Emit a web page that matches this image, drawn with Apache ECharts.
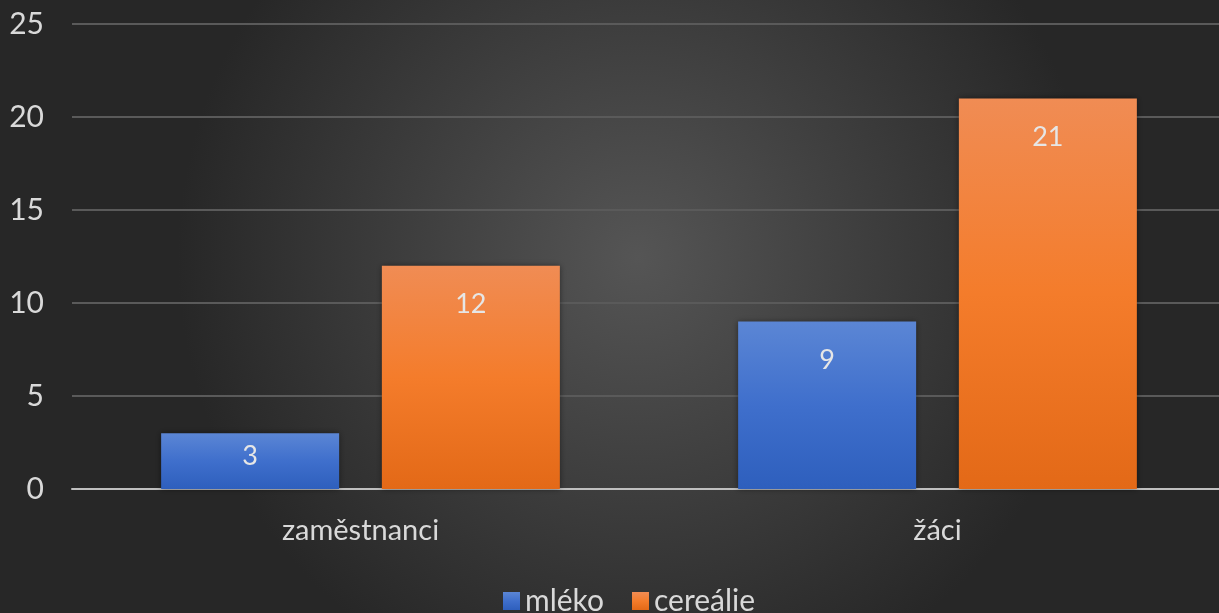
<!DOCTYPE html>
<html>
<head>
<meta charset="utf-8">
<script src="https://cdn.jsdelivr.net/npm/echarts@6/dist/echarts.min.js"></script>
<style>
  html, body { margin: 0; padding: 0; overflow: hidden; }
  #chart { width: 1226px; height: 613px; }
</style>
</head>
<body>
<div id="chart"></div>
<script>
const categories = ['zaměstnanci', 'žáci']
const mleko = [3, 9]
const cerealie = [12, 21]
const yTicks = { min: 0, max: 25, interval: 5 }

const font = 'Lato, "Open Sans", sans-serif'
const myChart = echarts.init(document.getElementById('chart'))

// short bars get their label pulled up closer to the top edge
const withLabel = (arr) => arr.map(v => v < 5 ? { value: v, label: { distance: 10 } } : v)

const option = {
  color: ['#3f6fcc', '#f47c2b'],
  backgroundColor: new echarts.graphic.RadialGradient(0.52, 0.42, 0.75, [
    { offset: 0, color: '#555555' },
    { offset: 1, color: '#272727' }
  ]),
  textStyle: { fontFamily: font },
  legend: {
    data: ['mléko', 'cereálie'],
    top: 581,
    left: 498,
    itemWidth: 17,
    itemHeight: 18,
    itemGap: 28,
    icon: 'rect',
    textStyle: { color: '#d9d9d9', fontSize: 30, fontFamily: font }
  },
  grid: {
    left: 72,
    top: 24,
    bottom: 124,
    right: 0
  },
  xAxis: {
    type: 'category',
    data: categories,
    axisLine: { lineStyle: { color: '#bfbfbf', width: 2 } },
    axisTick: { show: false },
    axisLabel: { color: '#d9d9d9', fontSize: 29, margin: 27, fontFamily: font }
  },
  yAxis: {
    type: 'value',
    min: yTicks.min,
    max: yTicks.max,
    interval: yTicks.interval,
    axisLine: { show: false },
    axisTick: { show: false },
    splitLine: { lineStyle: { color: '#5a5a5a', width: 2 } },
    axisLabel: { color: '#d9d9d9', fontSize: 30, margin: 28, fontFamily: font }
  },
  series: [
    {
      name: 'mléko',
      type: 'bar',
      barWidth: 178,
      barGap: '24%',
      data: withLabel(mleko),
      itemStyle: {
        color: new echarts.graphic.LinearGradient(0, 0, 0, 1, [
          { offset: 0, color: '#5b86d5' },
          { offset: 0.5, color: '#3f6fcc' },
          { offset: 1, color: '#2e5fbd' }
        ]),
        shadowBlur: 6,
        shadowColor: 'rgba(0,0,0,0.45)'
      },
      label: {
        show: true,
        position: 'insideTop',
        distance: 25,
        color: '#e6e6e6',
        fontSize: 27,
        fontFamily: font
      }
    },
    {
      name: 'cereálie',
      type: 'bar',
      barWidth: 178,
      data: withLabel(cerealie),
      itemStyle: {
        color: new echarts.graphic.LinearGradient(0, 0, 0, 1, [
          { offset: 0, color: '#f08c54' },
          { offset: 0.5, color: '#f47c2b' },
          { offset: 1, color: '#e36917' }
        ]),
        shadowBlur: 6,
        shadowColor: 'rgba(0,0,0,0.45)'
      },
      label: {
        show: true,
        position: 'insideTop',
        distance: 25,
        color: '#e6e6e6',
        fontSize: 27,
        fontFamily: font
      }
    }
  ]
}
myChart.setOption(option)

window.onresize = function () {
  myChart.resize()
}
</script>
</body>
</html>
